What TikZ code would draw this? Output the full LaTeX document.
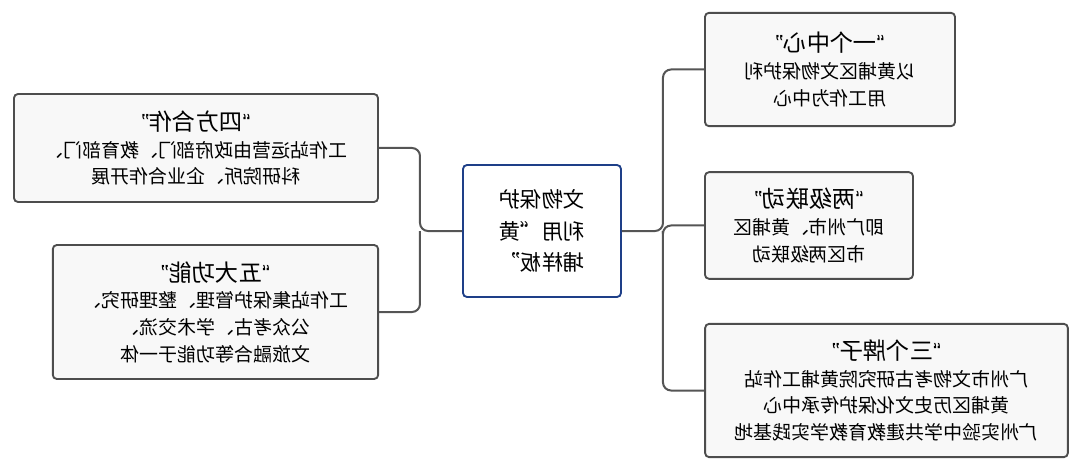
\documentclass[tikz,border=0pt]{standalone}
\usepackage{fontspec}
\setmainfont{Noto Sans CJK SC}
\newfontfamily\quotefont{Liberation Sans}
\usetikzlibrary{positioning}

\definecolor{boxgray}{HTML}{4D4D4D}
\definecolor{boxfill}{HTML}{F8F8F8}
\definecolor{hubblue}{HTML}{1E3F88}
\definecolor{linegray}{HTML}{555555}

\newcommand{\heading}[1]{{\fontsize{17.5}{24}\selectfont{\quotefont “}#1{\quotefont ”}}}

\begin{document}
\begin{tikzpicture}[x=0.75pt,y=-0.75pt,xscale=-1,transform shape,
    leaf/.style={rectangle,rounded corners=3pt,draw=boxgray,line width=1.4pt,fill=boxfill,
      align=center,inner sep=0pt,font=\fontsize{14.2}{20}\selectfont},
    hub/.style={rectangle,rounded corners=3pt,draw=hubblue,line width=1.4pt,fill=white,
      align=center,inner sep=0pt,font=\fontsize{16}{23.5}\selectfont,
      minimum width=118.5pt,minimum height=99pt},
    link/.style={draw=linegray,line width=1.5pt,rounded corners=6pt}]

\useasboundingbox (0,0) rectangle (1080,470);

% hub
\node[hub] (hub) at (538,231) {文物保护\\利用“黄\\埔样板”};

% right-hand branches
\node[leaf,minimum width=273pt,minimum height=81pt] (sifang) at (884,148)
  {\heading{四方合作}\\工作站运营由政府部门、教育部门、\\科研院所、企业合作开展};
\node[leaf,minimum width=244pt,minimum height=100.5pt] (wuda) at (864.5,312)
  {\heading{五大功能}\\工作站集保护管理、整理研究、\\公众考古、学术交流、\\文旅融合等功能于一体};

% left-hand branches
\node[leaf,minimum width=187.5pt,minimum height=85pt] (yige) at (250,69.5)
  {\heading{一个中心}\\以黄埔区文物保护利\\用工作为中心};
\node[leaf,minimum width=156pt,minimum height=80pt] (liangji) at (271,225.5)
  {\heading{两级联动}\\即广州市、黄埔区\\市区两级联动};
\node[leaf,minimum width=272pt,minimum height=100pt] (sange) at (193.5,390.5)
  {\heading{三个牌子}\\广州市文物考古研究院黄埔工作站\\黄埔区历史文化保护传承中心\\广州实验中学共建教育教学实践基地};

\coordinate (rbus) at (660,231);
\coordinate (lbus) at (417,231);

\draw[link] (hub.east) -- (rbus) |- (sifang.west);
\draw[link] (rbus) |- (wuda.west);
\draw[link] (hub.west) -- (lbus) |- (yige.east);
\draw[link] (lbus) |- (liangji.east);
\draw[link] (lbus) |- (sange.east);
\end{tikzpicture}
\end{document}
